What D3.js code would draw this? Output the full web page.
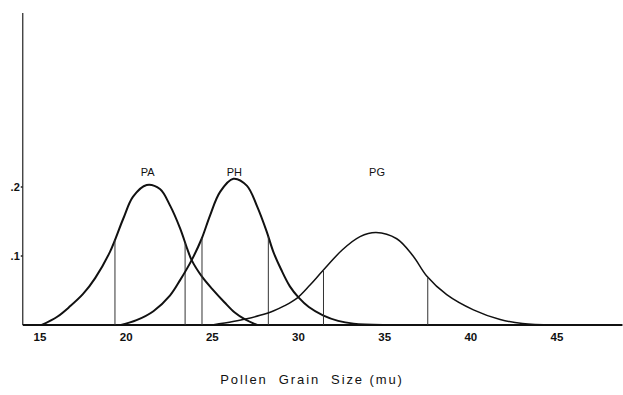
<!DOCTYPE html>
<html>
<head>
<meta charset="utf-8">
<script src="https://cdn.jsdelivr.net/npm/d3@7"></script>
<style>
  html, body { margin: 0; padding: 0; background: #fff; }
  svg { display: block; }
</style>
</head>
<body>
<script>
// ---- data ----
const xTicks = [15, 20, 25, 30, 35, 40, 45];
const yTicks = [0.1, 0.2];
const yTickLabels = [".1", ".2"];
const seriesNames = ["PA", "PH", "PG"];

const paX = [15.1, 16.0, 16.74, 17.5, 18.2, 19.06, 19.83, 20.4, 21.19, 21.96, 22.55, 23.13, 23.55, 23.8, 24.4, 25.0, 25.7, 26.3, 26.9, 27.6];
const paY = [0.0, 0.012, 0.027, 0.045, 0.068, 0.106, 0.154, 0.186, 0.203, 0.197, 0.173, 0.140, 0.110, 0.094, 0.070, 0.052, 0.033, 0.018, 0.008, 0.0];

const phX = [19.7, 20.6, 21.58, 22.55, 23.13, 23.8, 24.38, 24.87, 25.45, 26.22, 27.0, 27.58, 28.16, 28.54, 29.0, 29.5, 30.0, 30.6, 31.42, 32.3, 33.2, 34.9];
const phY = [0.0, 0.007, 0.020, 0.043, 0.065, 0.094, 0.125, 0.159, 0.193, 0.212, 0.202, 0.173, 0.135, 0.106, 0.080, 0.056, 0.040, 0.026, 0.014, 0.006, 0.002, 0.0];

const pgX = [25.0, 26.2, 27.0, 27.77, 28.5, 29.2, 29.92, 30.67, 31.42, 32.55, 33.57, 34.5, 35.7, 36.65, 37.44, 38.6, 40.15, 41.7, 43.0, 44.8];
const pgY = [0.0, 0.005, 0.009, 0.014, 0.020, 0.028, 0.039, 0.058, 0.079, 0.109, 0.128, 0.134, 0.125, 0.100, 0.071, 0.044, 0.022, 0.008, 0.002, 0.0];

// boundary lines under each curve (x positions)
const paLines = [19.35, 23.42];
const phLines = [24.4, 28.25];
const pgLines = [31.45, 37.5];

const xTitle = "Pollen  Grain  Size (mu)";

// ---- drawing ----
const W = 623, H = 395;
const svg = d3.select("body").append("svg").attr("width", W).attr("height", H);

const x = d3.scaleLinear().domain([15, 45]).range([40, 557]);
const y = d3.scaleLinear().domain([0, 0.2]).range([325, 187]);

const xMin = 14.0, xMax = 48.8, yTop = 0.452;
const font = "Liberation Sans, Arial, sans-serif";

// y axis line
svg.append("line")
  .attr("x1", x(xMin)).attr("x2", x(xMin))
  .attr("y1", y(yTop)).attr("y2", y(0))
  .attr("stroke", "#222").attr("stroke-width", 1.2);

// y ticks (tiny)
svg.selectAll("line.ytk").data(yTicks).enter().append("line")
  .attr("class", "ytk")
  .attr("x1", x(xMin) - 2).attr("x2", x(xMin))
  .attr("y1", d => y(d)).attr("y2", d => y(d))
  .attr("stroke", "#222").attr("stroke-width", 1.5);

// x axis line
svg.append("line")
  .attr("x1", x(xMin)).attr("x2", x(xMax))
  .attr("y1", y(0)).attr("y2", y(0))
  .attr("stroke", "#111").attr("stroke-width", 2);

// y tick labels
svg.selectAll("text.ytick").data(yTicks).enter().append("text")
  .attr("class", "ytick")
  .attr("x", x(xMin) - 3)
  .attr("y", d => y(d) + 4)
  .attr("text-anchor", "end")
  .attr("font-family", font)
  .attr("font-size", 11).attr("font-weight", "bold")
  .attr("fill", "#111")
  .text((d, i) => yTickLabels[i]);

// x tick labels
svg.selectAll("text.xtick").data(xTicks).enter().append("text")
  .attr("class", "xtick")
  .attr("x", d => x(d))
  .attr("y", 341)
  .attr("text-anchor", "middle")
  .attr("font-family", font)
  .attr("font-size", 11.5).attr("font-weight", "bold")
  .attr("fill", "#111")
  .text(d => d);

// x axis title
svg.append("text")
  .attr("x", 312).attr("y", 384)
  .attr("text-anchor", "middle")
  .attr("font-family", font)
  .attr("font-size", 13)
  .attr("letter-spacing", 1.9)
  .attr("fill", "#111")
  .attr("xml:space", "preserve")
  .style("white-space", "pre")
  .text(xTitle);

const line = d3.line().x(d => x(d[0])).y(d => y(d[1])).curve(d3.curveCatmullRom.alpha(0.5));

const series = [
  { name: seriesNames[0], xs: paX, ys: paY, lines: paLines, sw: 2.0 },
  { name: seriesNames[1], xs: phX, ys: phY, lines: phLines, sw: 2.0 },
  { name: seriesNames[2], xs: pgX, ys: pgY, lines: pgLines, sw: 1.5 }
];

function yOnPath(pathNode, px) {
  const L = pathNode.getTotalLength();
  let lo = 0, hi = L;
  for (let i = 0; i < 40; i++) {
    const mid = (lo + hi) / 2;
    const p = pathNode.getPointAtLength(mid);
    if (p.x < px) lo = mid; else hi = mid;
  }
  return pathNode.getPointAtLength((lo + hi) / 2).y;
}

series.forEach(s => {
  const pts = s.xs.map((v, i) => [v, s.ys[i]]);
  const path = svg.append("path")
    .datum(pts)
    .attr("d", line)
    .attr("fill", "none")
    .attr("stroke", "#111")
    .attr("stroke-width", s.sw)
    .attr("stroke-linejoin", "round");
  const node = path.node();
  s.lines.forEach(lx => {
    svg.append("line")
      .attr("x1", x(lx)).attr("x2", x(lx))
      .attr("y1", y(0)).attr("y2", yOnPath(node, x(lx)))
      .attr("stroke", "#333").attr("stroke-width", 1);
  });
  const iMax = d3.maxIndex(s.ys);
  svg.append("text")
    .attr("x", x(s.xs[iMax]) + 1)
    .attr("y", 176)
    .attr("text-anchor", "middle")
    .attr("font-family", font)
    .attr("font-size", 11)
    .attr("fill", "#111")
    .text(s.name);
});
</script>
</body>
</html>
